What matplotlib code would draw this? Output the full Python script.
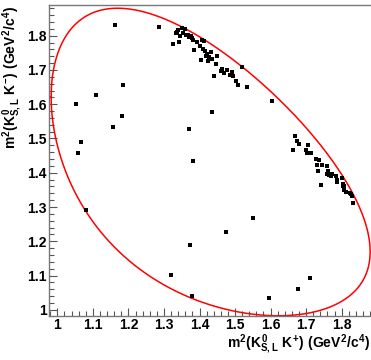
import numpy as np
import matplotlib
matplotlib.use('Agg')
import matplotlib.pyplot as plt
from matplotlib.ticker import MultipleLocator, FuncFormatter

plt.rcParams['font.family'] = ['Liberation Sans', 'DejaVu Sans']
plt.rcParams['font.weight'] = 'bold'
plt.rcParams['mathtext.fontset'] = 'custom'
plt.rcParams['mathtext.rm'] = 'Liberation Sans:bold'
plt.rcParams['mathtext.it'] = 'Liberation Sans:bold'
plt.rcParams['mathtext.bf'] = 'Liberation Sans:bold'

# masses (GeV/c^2): D0 -> K0 K+ K-
m_parent = 1.86484
m_k0 = 0.497611
m_kp = 0.493677
m_km = 0.493677

# m2(K0 K+) values of events
x_events = [1.163, 1.184, 1.110, 1.053, 1.183, 1.157, 1.068, 1.059, 1.081, 1.371,
            1.550, 1.475, 1.373, 1.320, 1.379, 1.596, 1.678, 1.710, 1.605, 1.435, 1.382,
            1.287, 1.350, 1.360, 1.333, 1.336, 1.354, 1.361, 1.368, 1.375, 1.370,
            1.379, 1.381, 1.325, 1.342, 1.394, 1.408, 1.413, 1.402, 1.409, 1.385,
            1.415, 1.422, 1.418, 1.432, 1.428, 1.448, 1.435, 1.403, 1.425, 1.446,
            1.462, 1.478, 1.460, 1.492, 1.470, 1.485, 1.441, 1.494, 1.502, 1.507,
            1.533, 1.520, 1.340, 1.345,
            1.668, 1.673, 1.681, 1.664, 1.706, 1.700, 1.713, 1.702, 1.728, 1.735,
            1.731, 1.744, 1.758, 1.732, 1.761, 1.762, 1.765, 1.769, 1.758, 1.772,
            1.784, 1.743, 1.800, 1.788, 1.786, 1.805, 1.806, 1.803, 1.807, 1.813,
            1.823, 1.826, 1.830, 1.832]
# m2(K0 K-) values of events
y_events = [1.831, 1.656, 1.626, 1.602, 1.566, 1.533, 1.491, 1.458, 1.291, 1.528,
            1.267, 1.226, 1.189, 1.102, 1.040, 1.034, 1.062, 1.094, 1.610, 1.576, 1.433,
            1.825, 1.821, 1.819, 1.807, 1.811, 1.807, 1.803, 1.803, 1.799, 1.796,
            1.792, 1.786, 1.777, 1.781, 1.782, 1.786, 1.783, 1.771, 1.761, 1.757,
            1.755, 1.747, 1.742, 1.752, 1.739, 1.741, 1.733, 1.729, 1.725, 1.716,
            1.703, 1.701, 1.698, 1.695, 1.692, 1.685, 1.681, 1.681, 1.669, 1.655,
            1.650, 1.708, 1.817, 1.799,
            1.508, 1.493, 1.483, 1.467, 1.482, 1.465, 1.459, 1.458, 1.441, 1.437,
            1.422, 1.422, 1.419, 1.405, 1.405, 1.399, 1.394, 1.390, 1.395, 1.395,
            1.390, 1.365, 1.384, 1.379, 1.374, 1.368, 1.361, 1.360, 1.350, 1.344,
            1.342, 1.337, 1.332, 1.313]


# kinematic boundary of the Dalitz plot
def dalitz_boundary(M, m1, m2, m3, n=2000):
    m12 = np.linspace(m1 + m2, M - m3, n)
    s12 = m12 ** 2
    e1 = (s12 + m1 ** 2 - m2 ** 2) / (2 * m12)
    e3 = (M ** 2 - s12 - m3 ** 2) / (2 * m12)
    p1 = np.sqrt(np.clip(e1 ** 2 - m1 ** 2, 0, None))
    p3 = np.sqrt(np.clip(e3 ** 2 - m3 ** 2, 0, None))
    hi = (e1 + e3) ** 2 - (p1 - p3) ** 2
    lo = (e1 + e3) ** 2 - (p1 + p3) ** 2
    xs = np.concatenate([s12, s12[::-1]])
    ys = np.concatenate([hi, lo[::-1]])
    return xs, ys


fig = plt.figure(figsize=(3.71, 3.60), dpi=100)
ax = fig.add_axes([0.1329, 0.1236, 0.8671, 0.8625])

bx, by = dalitz_boundary(m_parent, m_k0, m_kp, m_km)
ax.plot(bx, by, color='red', lw=1.1, clip_on=False)
ax.plot(x_events, y_events, 's', color='black', ms=2.4, mew=0)

ax.set_xlim(0.9775, 1.8824)
ax.set_ylim(0.9834, 1.8895)

fmt = FuncFormatter(lambda v, p: '%g' % round(v, 2))
ax.xaxis.set_major_locator(MultipleLocator(0.1))
ax.yaxis.set_major_locator(MultipleLocator(0.1))
ax.xaxis.set_minor_locator(MultipleLocator(0.02))
ax.yaxis.set_minor_locator(MultipleLocator(0.02))
ax.xaxis.set_major_formatter(fmt)
ax.yaxis.set_major_formatter(fmt)
ax.tick_params(which='both', direction='in', colors='#555555', labelcolor='black',
               labelsize=10, width=0.8)
ax.tick_params(which='major', length=6)
ax.tick_params(which='minor', length=3.5)
ax.tick_params(axis='x', pad=2)
ax.tick_params(axis='y', pad=2)
for lab in ax.get_xticklabels() + ax.get_yticklabels():
    lab.set_fontweight('bold')

ax.spines['right'].set_visible(False)
for s in ['left', 'bottom', 'top']:
    ax.spines[s].set_color('#777777')
    ax.spines[s].set_linewidth(1.0)

ax.set_xlabel(r'$m^2(K^0_{S,L}\ K^{+})\ (GeV^2/c^4)$', fontsize=10, loc='right')
ax.xaxis.set_label_coords(1.0, -0.055)
ax.set_ylabel(r'$m^2(K^0_{S,L}\ K^{-})\ (GeV^2/c^4)$', fontsize=10, loc='top')
ax.yaxis.set_label_coords(-0.079, 1.0)

fig.savefig('out.png', dpi=100)
